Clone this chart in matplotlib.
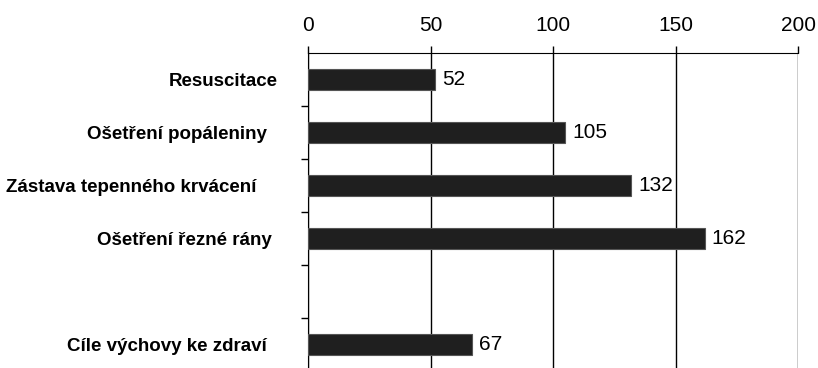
import matplotlib
matplotlib.use('Agg')
import matplotlib.pyplot as plt
import numpy as np

# Data (trailing spaces mimic the ragged label ends of the original)
categories = [
    'Resuscitace',
    'Ošetření popáleniny  ',
    'Zástava tepenného krvácení    ',
    'Ošetření řezné rány ',
    '',
    'Cíle výchovy ke zdraví  ',
]
values = [52, 105, 132, 162, None, 67]
x_ticks = [0, 50, 100, 150, 200]

plt.rcParams['font.family'] = ['Liberation Sans', 'DejaVu Sans']

fig = plt.figure(figsize=(8.18, 3.68), dpi=100, facecolor='white')
ax = fig.add_axes([308 / 818, -3 / 368, 490 / 818, 318 / 368])

pos = np.arange(len(categories))
for y, v in zip(pos, values):
    if v is None:
        continue
    ax.barh(y, v, height=0.4, color='#1f1f1f', edgecolor='#555555', linewidth=0.8, zorder=3)
    ax.annotate(str(v), (v, y), xytext=(5, 0), textcoords='offset points',
                ha='left', va='center', fontsize=15, color='black')

ax.set_xlim(0, 200)
ax.set_ylim(len(categories) - 0.5, -0.5)

# x axis on top
ax.xaxis.tick_top()
ax.set_xticks(x_ticks)
ax.set_xticklabels([str(t) for t in x_ticks], fontsize=15)
ax.tick_params(axis='x', length=5, width=1, pad=8, color='black')
ax.xaxis.grid(True, color='black', linewidth=1, zorder=0)

# category labels, ticks between slots
ax.set_yticks(pos)
ax.set_yticklabels(categories, fontsize=13.5, fontweight='bold')
ax.tick_params(axis='y', which='major', length=0, pad=22)
ax.set_yticks(pos[:-1] + 0.5, minor=True)
ax.tick_params(axis='y', which='minor', length=5, width=1, color='black')

for side in ['right', 'bottom']:
    ax.spines[side].set_visible(False)
ax.spines['left'].set_color('black')
ax.spines['top'].set_color('black')

fig.savefig('out.png', dpi=100, facecolor='white')
